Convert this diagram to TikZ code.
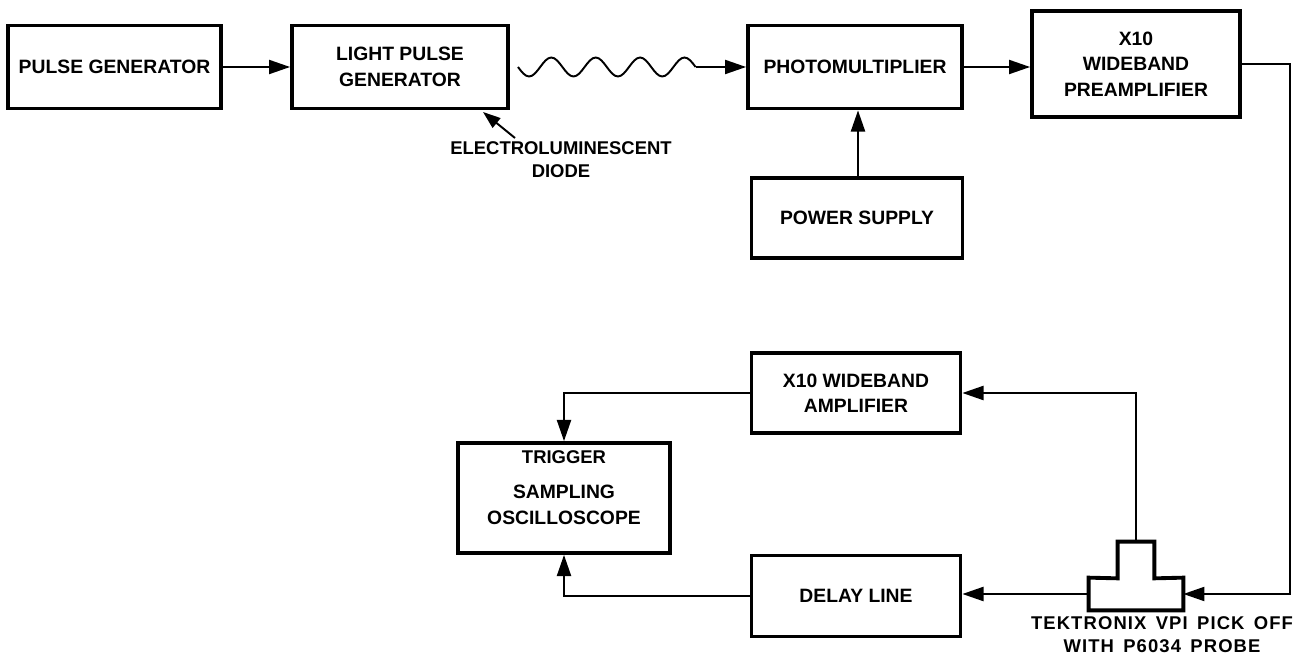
\documentclass[tikz,border=0pt]{standalone}
\usepackage{fontspec}
\setmainfont{Liberation Sans}
\newfontfamily\spacedfont{Liberation Sans}[LetterSpace=6,WordSpace=1.5]
\usetikzlibrary{arrows.meta}
\begin{document}
\begin{tikzpicture}[x=0.02cm,y=-0.02cm,
  box/.style={draw, line width=2.2pt, rectangle, inner sep=0pt, align=center, font=\bfseries\fontsize{11}{14.5}\selectfont},
  conn/.style={line width=1.1pt, -{Triangle[length=12pt,width=8pt]}},
  plain/.style={line width=1.1pt},
  lbl/.style={align=center, font=\bfseries\fontsize{10.5}{13}\selectfont, inner sep=0pt}]
\useasboundingbox (0,0) rectangle (1302,658);
% top row
\node[box, minimum width=4.26cm, minimum height=1.66cm] (pg) at (114.5,67) {PULSE GENERATOR};
\node[box, minimum width=4.32cm, minimum height=1.66cm] (lpg) at (400,67) {LIGHT PULSE\\GENERATOR};
\node[box, minimum width=4.28cm, minimum height=1.66cm] (pm) at (855,67) {PHOTOMULTIPLIER};
\node[box, minimum width=4.16cm, minimum height=2.12cm] (pre) at (1136,64) {X10\\WIDEBAND\\PREAMPLIFIER};
\node[box, minimum width=4.22cm, minimum height=1.6cm] (ps) at (857,218) {POWER SUPPLY};
% bottom
\node[box, minimum width=4.18cm, minimum height=1.6cm] (amp) at (856,393) {X10 WIDEBAND\\AMPLIFIER};
\node[box, minimum width=4.18cm, minimum height=1.62cm] (dl) at (856,596) {DELAY LINE};
\node[box, minimum width=4.24cm, minimum height=2.2cm] (osc) at (564,498) {};
\node[lbl, font=\bfseries\fontsize{11}{14.5}\selectfont] (osctxt) at (564,505) {SAMPLING\\OSCILLOSCOPE};
\node[lbl] (trig) at (564,457) {TRIGGER};
% pick off
\node[inner sep=0pt, minimum width=1.88cm, minimum height=0.64cm] (pick) at (1136,594) {};
\node[inner sep=0pt, minimum width=0.72cm, minimum height=0.72cm] (stub) at (1136,560) {};
\draw[line width=2.2pt, line join=miter] (pick.north west) -- (stub.south west) -- (stub.north west) -- (stub.north east) -- (stub.south east) -- (pick.north east) -- (pick.south east) -- (pick.south west) -- cycle;
\node[lbl, font=\spacedfont\bfseries\fontsize{10.5}{13}\selectfont] (pickl) at (1162,635) {TEKTRONIX VPI PICK OFF\\WITH P6034 PROBE};
% diode label
\node[lbl] (eld) at (561,160) {ELECTROLUMINESCENT\\DIODE};
\coordinate (eldt) at (515,138);
\coordinate (eldh) at (483,112);
\draw[line width=1.1pt, -{Triangle[length=10pt,width=7pt]}] (eldt) -- (eldh);
% connectors
\draw[conn] (pg.east) -- (lpg.west);
\coordinate (wstart) at (518,67);
\coordinate (wend) at (695.6,67);
\draw[plain] (wstart)
  sin ++(11.1,9.5) cos ++(11.1,-9.5) sin ++(11.1,-9.5) cos ++(11.1,9.5)
  sin ++(11.1,9.5) cos ++(11.1,-9.5) sin ++(11.1,-9.5) cos ++(11.1,9.5)
  sin ++(11.1,9.5) cos ++(11.1,-9.5) sin ++(11.1,-9.5) cos ++(11.1,9.5)
  sin ++(11.1,9.5) cos ++(11.1,-9.5) sin ++(11.1,-9.5) cos ++(11.1,9.5);
\draw[conn] (wend) -- (pm.west);
\draw[conn] (pm.east) -- (pm.east -| pre.west);
\draw[conn] (ps.north -| 858,0) -- (pm.south -| 858,0);
\coordinate (c1) at (1290,64);
\draw[conn] (pre.east) -- (c1) |- (pick.east);
\draw[conn] (pick.west) -- (pick.west -| dl.east);
\draw[conn] (stub.north) |- (amp.east);
\draw[conn] (amp.west) -| (osc.north);
\draw[conn] (dl.west) -| (osc.south);
\end{tikzpicture}
\end{document}
